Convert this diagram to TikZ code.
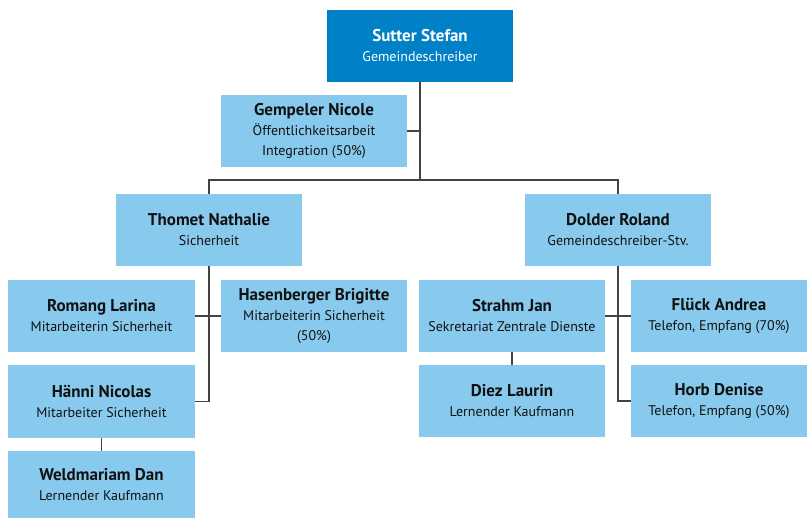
\documentclass[tikz,border=0pt]{standalone}
\usepackage{fontspec}
\setmainfont{PT Sans}
\usetikzlibrary{calc}
\definecolor{lightbox}{HTML}{88CAEE}
\definecolor{darkbox}{HTML}{0080C6}
\definecolor{txt}{HTML}{111111}
\definecolor{lin}{HTML}{444444}
\newcommand{\nm}[1]{{\fontsize{17}{20}\selectfont\bfseries #1}}
\newcommand{\sub}[1]{{\fontsize{14}{20}\selectfont #1}}
\tikzset{
  box/.style={fill=lightbox, text=txt, minimum width=186pt, minimum height=72pt, inner sep=0pt, align=center, font=\fontsize{14}{20}\selectfont},
  topbox/.style={box, fill=darkbox, text=white},
  conn/.style={draw=lin, line width=1.2pt}
}
\begin{document}
\begin{tikzpicture}[x=1pt,y=-1pt]
\useasboundingbox (0,0) rectangle (807,518);
\node[topbox] (sutter) at (420,46) {\nm{Sutter Stefan}\\\sub{Gemeindeschreiber}};
\node[box] (gemp) at (314,131) {\nm{Gempeler Nicole}\\\sub{Öffentlichkeitsarbeit}\\\sub{Integration (50\%)}};
\node[box] (thomet) at (209,230) {\nm{Thomet Nathalie}\\\sub{Sicherheit}};
\node[box] (dolder) at (618,230) {\nm{Dolder Roland}\\\sub{Gemeindeschreiber-Stv.}};
\node[box, minimum width=187pt] (romang) at (101.5,316) {\nm{Romang Larina}\\\sub{Mitarbeiterin Sicherheit}};
\node[box] (hasen) at (314,316) {\nm{Hasenberger Brigitte}\\\sub{Mitarbeiterin Sicherheit}\\\sub{(50\%)}};
\node[box, minimum width=187pt, minimum height=73pt] (haenni) at (101.5,401.5) {\nm{Hänni Nicolas}\\\sub{Mitarbeiter Sicherheit}};
\node[box, minimum width=187pt, minimum height=67pt] (weld) at (101.5,484.5) {\nm{Weldmariam Dan}\\\sub{Lernender Kaufmann}};
\node[box] (strahm) at (512,316) {\nm{Strahm Jan}\\\sub{Sekretariat Zentrale Dienste}};
\node[box] (diez) at (512,401) {\nm{Diez Laurin}\\\sub{Lernender Kaufmann}};
\node[box, minimum width=176pt] (flueck) at (719,316) {\nm{Flück Andrea}\\\sub{Telefon, Empfang (70\%)}};
\node[box, minimum width=176pt] (horb) at (719,401) {\nm{Horb Denise}\\\sub{Telefon, Empfang (50\%)}};
\coordinate (jmid) at (sutter.south |- 0,180);
\draw[conn] (sutter.south) -- (jmid);
\draw[conn] (gemp.east) -- (gemp.east -| sutter.south);
\draw[conn] (thomet.north) |- (jmid) -| (dolder.north);
\draw[conn] (thomet.south) |- (haenni.east);
\draw[conn] (romang.east) -- (hasen.west);
\draw[conn] (haenni.south) -- (weld.north);
\draw[conn] (dolder.south) |- (horb.west);
\draw[conn] (strahm.east) -- (flueck.west);
\draw[conn] (strahm.south) -- (diez.north);
\end{tikzpicture}
\end{document}
